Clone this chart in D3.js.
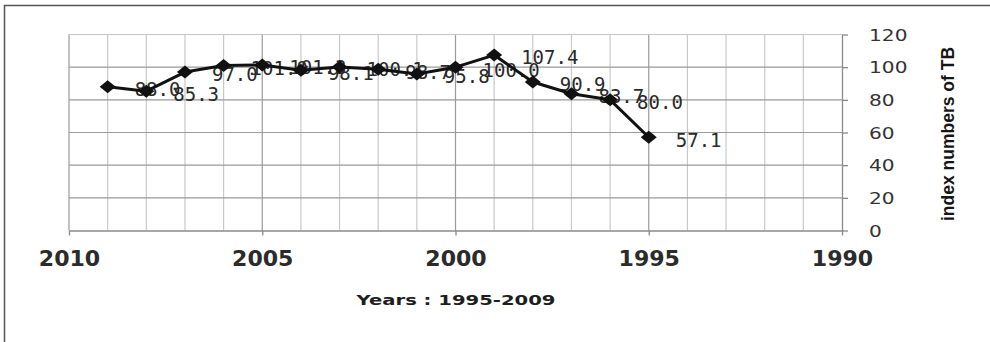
<!DOCTYPE html>
<html>
<head>
<meta charset="utf-8">
<script src="https://cdn.jsdelivr.net/npm/d3@7"></script>
<style>
  html, body { margin: 0; padding: 0; background: #fff; }
  svg { display: block; }
</style>
</head>
<body>
<svg id="chart" width="990" height="342"></svg>
<script>
// TB index numbers, 1995-2009
const years = [2009, 2008, 2007, 2006, 2005, 2004, 2003, 2002, 2001, 2000, 1999, 1998, 1997, 1996, 1995];
const tbIndex = [88.0, 85.3, 97.0, 101.0, 101.3, 98.1, 100.1, 98.7, 95.8, 100.0, 107.4, 90.9, 83.7, 80.0, 57.1];
const xMajorTicks = [2010, 2005, 2000, 1995, 1990];
const xMinorTicks = d3.range(2010, 1989, -1);
const yTickValues = [0, 20, 40, 60, 80, 100, 120];
const xTitle = "Years : 1995-2009";
const yTitle = "index numbers of TB";

const svg = d3.select("#chart");
const W = 990, H = 342;
const plot = { left: 69, right: 842, top: 34.5, bottom: 230.5 };

const x = d3.scaleLinear().domain([2010, 1990]).range([plot.left, plot.right]);
const y = d3.scaleLinear().domain([0, 120]).range([plot.bottom, plot.top]);

// outer frame
svg.append("rect")
  .attr("x", 4.5).attr("y", 5.5)
  .attr("width", W + 10).attr("height", H + 10)
  .attr("fill", "none").attr("stroke", "#555").attr("stroke-width", 1.5);

// vertical grid: every year, darker every fifth year
const grid = svg.append("g");
grid.selectAll("line.vminor")
  .data(xMinorTicks.filter(d => !xMajorTicks.includes(d)))
  .join("line")
  .attr("x1", d => x(d)).attr("x2", d => x(d))
  .attr("y1", y(120)).attr("y2", y(0))
  .attr("stroke", "#c9c9c9").attr("stroke-width", 1.2);
grid.selectAll("line.vmajor")
  .data(xMajorTicks.filter(d => d !== 1990))
  .join("line")
  .attr("x1", d => x(d)).attr("x2", d => x(d))
  .attr("y1", y(120)).attr("y2", y(0))
  .attr("stroke", "#9a9a9a").attr("stroke-width", 1.2);

// horizontal grid
grid.selectAll("line.h")
  .data(yTickValues.filter(d => d > 0))
  .join("line")
  .attr("x1", x(2010)).attr("x2", x(1990))
  .attr("y1", d => y(d)).attr("y2", d => y(d))
  .attr("stroke", d => d === 120 ? "#c4c4c4" : "#9a9a9a")
  .attr("stroke-width", 1.2);

// x axis with ticks at every fifth year
const xAxis = svg.append("g")
  .attr("transform", `translate(0,${y(0)})`)
  .call(d3.axisBottom(x).tickValues(xMajorTicks).tickSize(5).tickSizeOuter(0).tickFormat(d3.format("d")));
xAxis.select(".domain").attr("stroke", "#8a8a8a").attr("stroke-width", 1.3);
xAxis.selectAll(".tick line").attr("stroke", "#8a8a8a").attr("stroke-width", 1.3);
xAxis.selectAll(".tick text")
  .attr("y", 0).attr("dy", null)
  .attr("transform", "translate(0,35) scale(1.05,1)")
  .attr("font-family", "DejaVu Sans, sans-serif")
  .attr("font-weight", "bold")
  .attr("font-size", 21)
  .attr("fill", "#2b2b2b");

// y axis on the right
const yAxis = svg.append("g")
  .attr("transform", `translate(${x(1990)},0)`)
  .call(d3.axisRight(y).tickValues(yTickValues).tickSize(6).tickSizeOuter(0));
yAxis.select(".domain").attr("stroke", "#8a8a8a").attr("stroke-width", 1.3);
yAxis.selectAll(".tick line").attr("stroke", "#8a8a8a").attr("stroke-width", 1.3);
yAxis.selectAll(".tick text")
  .attr("x", 0).attr("dy", "0.36em")
  .attr("text-anchor", "start")
  .attr("transform", "translate(27,0) scale(1.3,1)")
  .attr("font-family", "DejaVu Sans, sans-serif")
  .attr("font-size", 15.5)
  .attr("fill", "#333");

// axis titles
svg.append("text")
  .attr("text-anchor", "middle")
  .attr("transform", "translate(456,305) scale(1.4,1)")
  .attr("font-family", "DejaVu Sans, sans-serif")
  .attr("font-weight", "bold")
  .attr("font-size", 14)
  .attr("fill", "#1e1e1e")
  .text(xTitle);

svg.append("text")
  .attr("text-anchor", "middle")
  .attr("transform", "translate(954,134) rotate(-90)")
  .attr("font-family", "Liberation Sans, Arial, sans-serif")
  .attr("font-weight", "bold")
  .attr("font-size", 17.5)
  .attr("fill", "#151515")
  .text(yTitle);

const pts = years.map((yr, i) => ({ year: yr, value: tbIndex[i] }));

// value labels to the right of each point (drawn beneath the series)
const fmt = d3.format(".1f");
svg.selectAll("text.val")
  .data(pts)
  .join("text")
  .attr("class", "val")
  .attr("x", d => x(d.year) + 27)
  .attr("y", d => y(d.value) + 2.5)
  .attr("dy", "0.36em")
  .attr("font-family", "DejaVu Sans Mono, monospace")
  .attr("font-size", 19)
  .attr("fill", "#2a2a2a")
  .text(d => fmt(d.value));

// series line and diamond markers
const line = d3.line().x(d => x(d.year)).y(d => y(d.value));

svg.append("path")
  .datum(pts)
  .attr("d", line)
  .attr("fill", "none")
  .attr("stroke", "#111")
  .attr("stroke-width", 3)
  .attr("stroke-linejoin", "round");

const diamond = "M0,-6.5L8,0L0,6.5L-8,0Z";
svg.selectAll("path.marker")
  .data(pts)
  .join("path")
  .attr("class", "marker")
  .attr("d", diamond)
  .attr("transform", d => `translate(${x(d.year)},${y(d.value)})`)
  .attr("fill", "#111");
</script>
</body>
</html>
